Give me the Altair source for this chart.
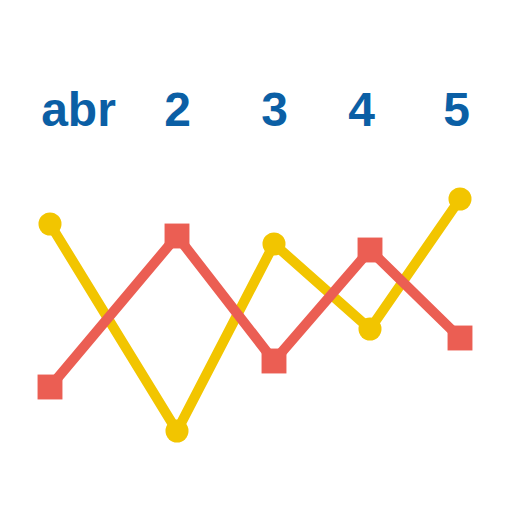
import altair as alt
import pandas as pd

# x positions (arbitrary units) of the five observations
x_pos = [42, 169, 266, 362, 452]
series_a = [280, 73, 260, 175, 305]   # yellow, circles
series_b = [117, 268, 143, 254, 166]  # red, squares

# axis label positions and texts
tick_pos = [70, 169, 266, 353, 448]
tick_labels = ["abr", "2", "3", "4", "5"]

rows = []
for x, a, b in zip(x_pos, series_a, series_b):
    rows.append({"x": x, "v": a, "s": "A"})
    rows.append({"x": x, "v": b, "s": "B"})
df = pd.DataFrame(rows)

label_expr = "{" + ",".join(f"'{p}':'{t}'" for p, t in zip(tick_pos, tick_labels)) + "}[datum.value]"

xenc = alt.X("x:Q", scale=alt.Scale(domain=[0, 496], nice=False, zero=False),
             axis=alt.Axis(orient="top", values=tick_pos, labelExpr=label_expr,
                           domain=False, ticks=False, tickSize=0, grid=False,
                           labelFont="Liberation Sans", labelFontWeight="bold",
                           labelFontSize=48, labelColor="#0b5fa5",
                           labelBaseline="alphabetic", labelPadding=15,
                           labelFlush=False, labelOverlap=False, title=None))
yenc = alt.Y("v:Q", scale=alt.Scale(domain=[0, 364], nice=False, zero=False), axis=None)
color = alt.Color("s:N", scale=alt.Scale(domain=["A", "B"], range=["#f2c500", "#eb5e53"]), legend=None)
shape = alt.Shape("s:N", scale=alt.Scale(domain=["A", "B"], range=["circle", "square"]), legend=None)

base = alt.Chart(df)
lines = base.mark_line(strokeWidth=10).encode(x=xenc, y=yenc, color=color, order="x:Q")
pts_a = base.transform_filter("datum.s == 'A'").mark_point(filled=True, opacity=1, size=530).encode(
    x=xenc, y=yenc, color=color, shape=shape)
pts_b = base.transform_filter("datum.s == 'B'").mark_point(filled=True, opacity=1, size=620).encode(
    x=xenc, y=yenc, color=color, shape=shape)

chart = alt.layer(lines, pts_a, pts_b).properties(
    width=496, height=364,
    autosize=alt.AutoSizeParams(type="none"),
    padding={"left": 0, "top": 132, "right": 0, "bottom": 0},
).configure_view(stroke=None)

chart.save("out.html", embed_options={"renderer": "svg", "actions": False})
